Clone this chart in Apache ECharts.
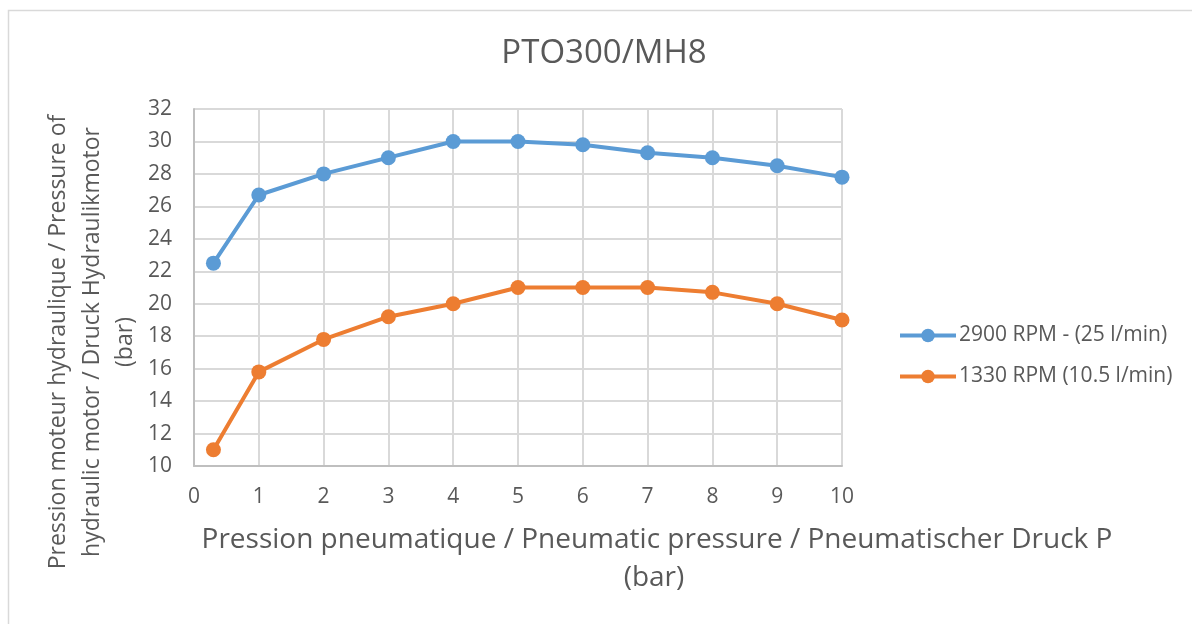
<!DOCTYPE html>
<html><head><meta charset="utf-8">
<script src="https://cdn.jsdelivr.net/npm/echarts@6/dist/echarts.min.js"></script>
<style>html,body{margin:0;padding:0;background:#fff}#c{width:1192px;height:624px}</style>
</head><body><div id="c"></div>
<script>
const titleText = 'PTO300/MH8';
const xTitle1 = 'Pression pneumatique / Pneumatic pressure / Pneumatischer Druck P';
const xTitle2 = '(bar)';
const yTitle = ['Pression moteur hydraulique / Pressure of', 'hydraulic motor / Druck Hydraulikmotor', '(bar)'];
const xValues = [0.3, 1, 2, 3, 4, 5, 6, 7, 8, 9, 10];
const series1Name = '2900 RPM - (25 l/min)';
const series1 = [22.5, 26.7, 28, 29, 30, 30, 29.8, 29.3, 29, 28.5, 27.8];
const series2Name = '1330 RPM (10.5 l/min)';
const series2 = [11, 15.8, 17.8, 19.2, 20, 21, 21, 21, 20.7, 20, 19];

const FONT = 'Open Sans';
const TXT = '#595959';
const chart = echarts.init(document.getElementById('c'));
const pair = (xs, ys) => xs.map((x, i) => [x, ys[i]]);
const vtext = (x, t) => ({type: 'text', x: x, y: 342, rotation: Math.PI / 2,
  style: {text: t, fontFamily: FONT, fontSize: 23, fill: TXT, textAlign: 'center', textVerticalAlign: 'middle'}});
chart.setOption({
  animation: false,
  textStyle: {fontFamily: FONT},
  grid: {left: 194, top: 109, width: 648, height: 357, containLabel: false},
  legend: {
    orient: 'vertical', left: 893, top: 320, itemGap: 20, itemWidth: 56, itemHeight: 17,
    lineStyle: {width: 4},
    textStyle: {fontFamily: FONT, fontSize: 21, color: TXT, padding: [0, 0, 0, -2]},
    data: [series1Name, series2Name]
  },
  xAxis: {
    type: 'value', min: 0, max: 10, interval: 1,
    axisLine: {lineStyle: {color: '#bfbfbf', width: 2}},
    axisTick: {show: false},
    axisLabel: {fontFamily: FONT, fontSize: 21, color: TXT, margin: 21},
    splitLine: {show: true, lineStyle: {color: '#d9d9d9', width: 2}}
  },
  yAxis: {
    type: 'value', min: 10, max: 32, interval: 2,
    axisLine: {show: true, lineStyle: {color: '#bfbfbf', width: 2}},
    axisTick: {show: false},
    axisLabel: {fontFamily: FONT, fontSize: 21, color: TXT, margin: 22},
    splitLine: {show: true, lineStyle: {color: '#d9d9d9', width: 2}}
  },
  series: [
    {name: series1Name, type: 'line', data: pair(xValues, series1), symbol: 'circle', symbolSize: 15,
     itemStyle: {color: '#5b9bd5'}, lineStyle: {color: '#5b9bd5', width: 4}},
    {name: series2Name, type: 'line', data: pair(xValues, series2), symbol: 'circle', symbolSize: 15,
     itemStyle: {color: '#ed7d31'}, lineStyle: {color: '#ed7d31', width: 4}}
  ],
  graphic: [
    {type: 'rect', shape: {x: 8.5, y: 10.5, width: 1200, height: 700}, style: {fill: 'none', stroke: '#d9d9d9', lineWidth: 1.5}, silent: true, z: -1},
    {type: 'text', x: 604, y: 54, style: {text: titleText, fontFamily: FONT, fontSize: 33, fill: TXT, textAlign: 'center', textVerticalAlign: 'middle'}},
    {type: 'text', x: 657, y: 540, style: {text: xTitle1, fontFamily: FONT, fontSize: 28, fill: TXT, textAlign: 'center', textVerticalAlign: 'middle'}},
    {type: 'text', x: 654, y: 578, style: {text: xTitle2, fontFamily: FONT, fontSize: 28, fill: TXT, textAlign: 'center', textVerticalAlign: 'middle'}},
    vtext(58, yTitle[0]), vtext(92, yTitle[1]), vtext(125, yTitle[2])
  ]
});
</script></body></html>
